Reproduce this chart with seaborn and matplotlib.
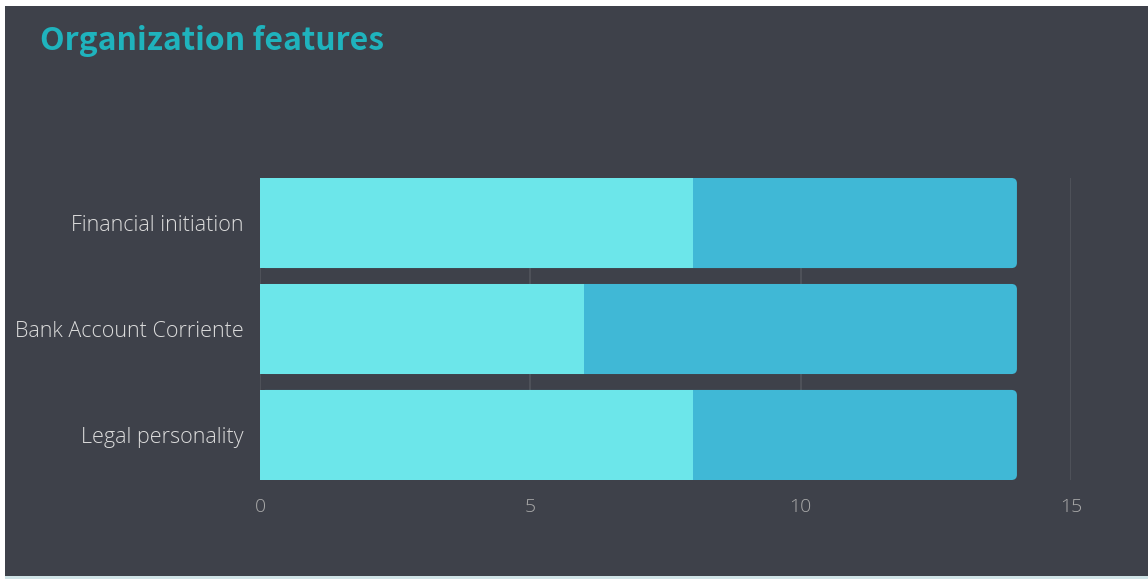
import matplotlib
matplotlib.use("Agg")
import matplotlib.pyplot as plt
from matplotlib.patches import Rectangle, FancyBboxPatch
import seaborn as sns
import pandas as pd

# ---- data ----
categories = ["Financial initiation", "Bank Account Corriente", "Legal personality"]
series_light = [8, 6, 8]
series_dark = [6, 8, 6]
x_ticks = [0, 5, 10, 15]
title = "Organization features"

BG = "#3e414a"
LIGHT = "#6ce6ea"
DARK = "#40b8d6"
GRID = "#52555d"

sns.set_theme(style="dark")
plt.rcParams["font.family"] = ["Open Sans", "DejaVu Sans"]

fig = plt.figure(figsize=(11.48, 5.79), dpi=100, facecolor="white")
# dark card
card = Rectangle((5 / 1148, 3 / 579), 1 - 5 / 1148, 1 - 9 / 579,
                 transform=fig.transFigure, facecolor=BG,
                 edgecolor="none", zorder=-2)
strip = Rectangle((5 / 1148, 0), 1 - 5 / 1148, 3 / 579,
                  transform=fig.transFigure, facecolor="#cfe3e6",
                  edgecolor="none", zorder=-2)
fig.add_artist(card)
fig.add_artist(strip)

ax = fig.add_axes([260 / 1148, 1 - 480 / 579, 811 / 1148, 302 / 579])
ax.set_zorder(1)
ax.set_facecolor("none")

df = pd.DataFrame({"cat": categories,
                   "light": series_light,
                   "total": [a + b for a, b in zip(series_light, series_dark)]})

sns.barplot(data=df, y="cat", x="total", color=DARK, orient="h", width=0.85,
            ax=ax, saturation=1, zorder=2, linewidth=0)
# round right corners of total bars
for p in list(ax.patches):
    x, y, w, h = p.get_x(), p.get_y(), p.get_width(), p.get_height()
    fb = FancyBboxPatch((x, y), w, h,
                        boxstyle="round,pad=0,rounding_size=0.1",
                        mutation_aspect=0.5, facecolor=DARK,
                        edgecolor="none", linewidth=0, zorder=2)
    p.remove()
    ax.add_patch(fb)

sns.barplot(data=df, y="cat", x="light", color=LIGHT, orient="h", width=0.85,
            ax=ax, saturation=1, zorder=3, linewidth=0)

ax.set_xlim(0, 15)
ax.set_ylim(2.425, -0.425)
ax.set_xticks(x_ticks)
ax.set_xticklabels([str(t) for t in x_ticks])
ax.grid(axis="x", color=GRID, linewidth=1.2, zorder=0)
ax.grid(axis="y", visible=False)
ax.set_axisbelow(True)
for s in ax.spines.values():
    s.set_visible(False)
ax.set_xlabel("")
ax.set_ylabel("")
ax.tick_params(axis="y", colors="#dcdcdc", labelsize=15.5, length=0, pad=12)
ax.tick_params(axis="x", colors="#aaaaaa", labelsize=14, length=0, pad=13)
for lbl in ax.get_yticklabels() + ax.get_xticklabels():
    lbl.set_fontweight("light")

fig.text(40 / 1148, 1 - 50 / 579, title, color="#1fb3bd", fontsize=23,
         fontweight="bold", ha="left", va="baseline",
         family=["Noto Sans CJK KR", "DejaVu Sans"])

fig.savefig("out.png", dpi=100, facecolor="white")
